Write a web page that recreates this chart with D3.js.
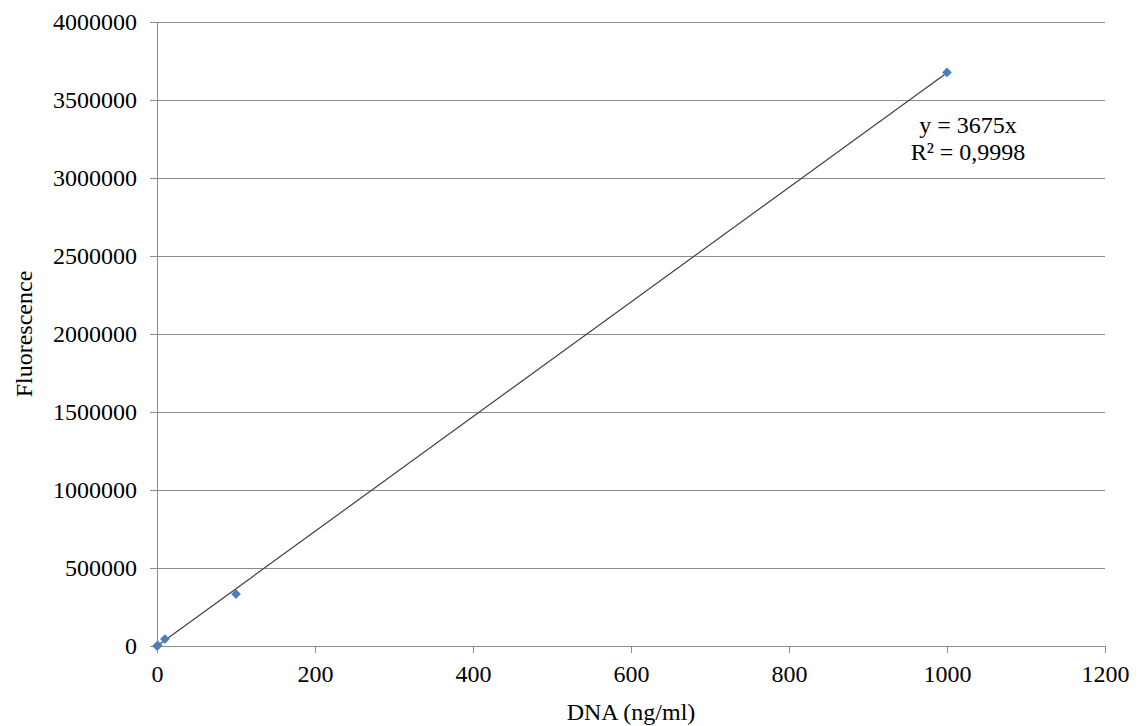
<!DOCTYPE html>
<html>
<head>
<meta charset="utf-8">
<script src="https://cdn.jsdelivr.net/npm/d3@7"></script>
<style>
  body { margin: 0; background: #fff; }
  svg text { font-family: "Liberation Serif", "Times New Roman", serif; fill: #000; }
</style>
</head>
<body>
<div id="chart"></div>
<script>
// data
const dnaValues = [0, 1, 10, 100, 1000];
const fluorValues = [0, 4000, 45000, 333000, 3677000];
const slope = 3675;
const xTicks = [0, 200, 400, 600, 800, 1000, 1200];
const yTicks = [0, 500000, 1000000, 1500000, 2000000, 2500000, 3000000, 3500000, 4000000];
const equationLines = ["y = 3675x", "R² = 0,9998"];

const points = dnaValues.map((d, i) => ({ x: d, y: fluorValues[i] }));

const W = 1138, H = 726;
const margin = { top: 22, right: 33, bottom: 80, left: 157 };
const width = W - margin.left - margin.right;
const height = H - margin.top - margin.bottom;

const svg = d3.select("#chart")
    .append("svg")
    .attr("width", W)
    .attr("height", H);

const g = svg.append("g")
    .attr("transform", "translate(" + margin.left + "," + margin.top + ")");

const x = d3.scaleLinear().domain([0, 1200]).range([0, width]);
const y = d3.scaleLinear().domain([0, 4000000]).range([height, 0]);

// gridlines
g.selectAll(".grid")
    .data(yTicks)
    .enter()
    .append("line")
    .attr("x1", 0)
    .attr("x2", width)
    .attr("y1", d => y(d))
    .attr("y2", d => y(d))
    .attr("stroke", "#8c8c8c")
    .attr("stroke-width", 1)
    .attr("shape-rendering", "crispEdges");

// axes
const yAxis = g.append("g")
    .call(d3.axisLeft(y).tickValues(yTicks).tickSize(7).tickPadding(13).tickFormat(d => d));
const xAxis = g.append("g")
    .attr("transform", "translate(0," + height + ")")
    .call(d3.axisBottom(x).tickValues(xTicks).tickSize(7).tickPadding(12).tickFormat(d => d));

[xAxis, yAxis].forEach(a => {
    a.select(".domain").attr("stroke", "#8c8c8c").attr("shape-rendering", "crispEdges");
    a.selectAll(".tick line").attr("stroke", "#8c8c8c").attr("shape-rendering", "crispEdges");
    a.selectAll(".tick text")
        .style("font-family", "'Liberation Serif', 'Times New Roman', serif")
        .style("font-size", "24px")
        .attr("fill", "#000");
});

// trendline
g.append("line")
    .attr("x1", x(0))
    .attr("y1", y(0))
    .attr("x2", x(1000))
    .attr("y2", y(slope * 1000))
    .attr("stroke", "#404040")
    .attr("stroke-width", 1.2);

// markers
g.selectAll(".pt")
    .data(points)
    .enter()
    .append("path")
    .attr("class", "pt")
    .attr("d", d3.symbol().type(d3.symbolDiamond2).size(60))
    .attr("transform", d => "translate(" + x(d.x) + "," + y(d.y) + ")")
    .attr("fill", "#4a7ebb");

// trendline label
const eq = g.append("text")
    .attr("text-anchor", "middle")
    .style("font-size", "24px");
eq.selectAll("tspan")
    .data(equationLines)
    .enter()
    .append("tspan")
    .attr("x", 811)
    .attr("y", (d, i) => 111 + i * 27)
    .text(d => d);

// axis titles
svg.append("text")
    .attr("x", margin.left + width / 2)
    .attr("y", 720)
    .attr("text-anchor", "middle")
    .style("font-size", "24px")
    .text("DNA (ng/ml)");

svg.append("text")
    .attr("transform", "rotate(-90)")
    .attr("x", -(margin.top + height / 2))
    .attr("y", 32)
    .attr("text-anchor", "middle")
    .style("font-size", "24px")
    .text("Fluorescence");
</script>
</body>
</html>
